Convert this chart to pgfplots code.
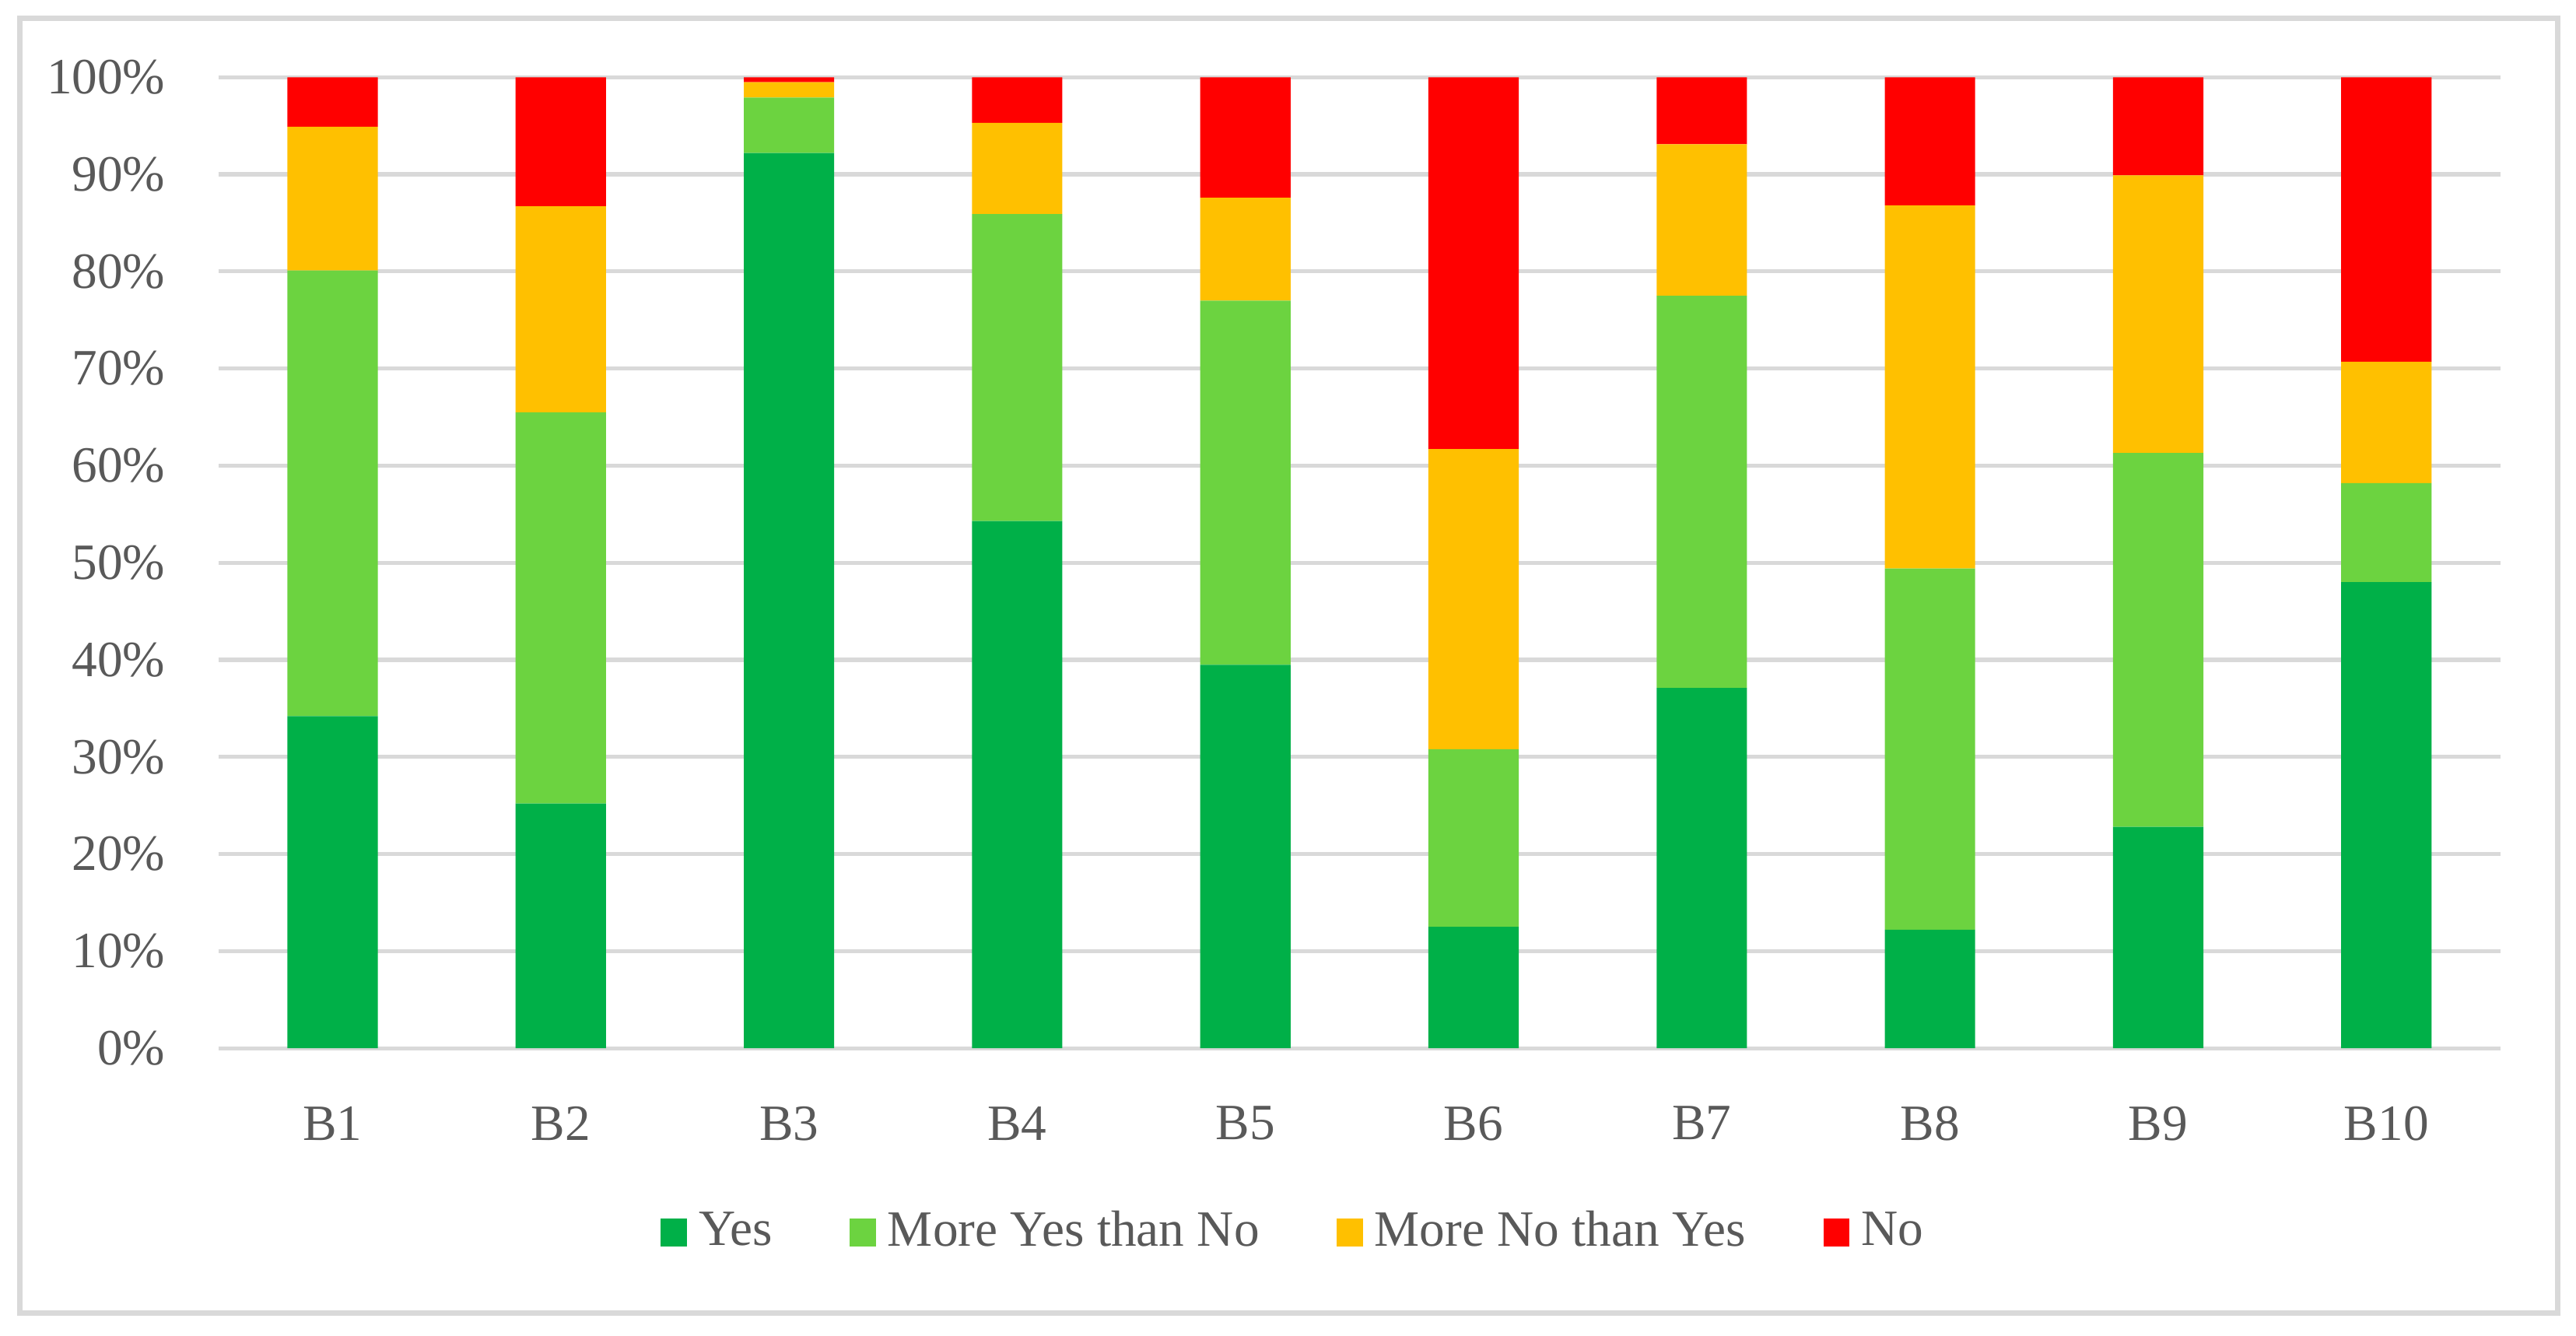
\documentclass[border=0pt]{standalone}
\usepackage{fontspec}
\setmainfont{Liberation Serif}
\usepackage{pgfplots}
\usepackage{pgfplotstable}
\pgfplotsset{compat=1.18}

\definecolor{cyes}{RGB}{0,176,72}
\definecolor{cmyes}{RGB}{108,211,64}
\definecolor{cmno}{RGB}{255,192,0}
\definecolor{cno}{RGB}{255,0,0}
\definecolor{gridgray}{RGB}{217,217,217}
\definecolor{textgray}{RGB}{89,89,89}

% shares in percent, bottom to top
\pgfplotstableread{
cat yes myes mno no
1  34.2 45.9 14.8 5.1
2  25.2 40.3 21.2 13.3
3  92.2 5.7  1.6  0.5
4  54.3 31.6 9.4  4.7
5  39.5 37.5 10.6 12.4
6  12.5 18.3 30.9 38.3
7  37.1 40.4 15.6 6.9
8  12.2 37.2 37.4 13.2
9  22.8 38.5 28.6 10.1
10 48.0 10.2 12.5 29.3
}\answers

\begin{document}
\begin{tikzpicture}
\useasboundingbox (-1.33,-1.75) rectangle (14.35,6.38);
\draw[gridgray, line width=0.9pt] (-1.21,-1.61) rectangle (14.24,6.27);
\begin{axis}[
    at={(0,0)}, anchor=south west,
    scale only axis, width=13.89cm, height=5.91cm,
    ybar stacked, bar width=5.5mm,
    xmin=0.5, xmax=10.5, ymin=0, ymax=100,
    xtick={1,2,3,4,5,6,7,8,9,10},
    xticklabels={B1,B2,B3,B4,B5,B6,B7,B8,B9,B10},
    ytick={0,10,20,30,40,50,60,70,80,90,100},
    yticklabels={0\%,10\%,20\%,30\%,40\%,50\%,60\%,70\%,80\%,90\%,100\%},
    ymajorgrids,
    grid style={gridgray, line width=0.7pt},
    axis line style={draw=none},
    major tick length=0pt,
    tick label style={font=\fontsize{8.8}{10}\selectfont, text=textgray},
    yticklabel shift=2mm,
    xticklabel shift=2.3mm,
    every axis plot/.append style={draw=none,
        legend image code/.code={\fill[##1] (0mm,-0.85mm) rectangle (1.6mm,0.85mm);}},
    legend columns=4,
    legend style={at={(0.473,-0.19)}, anchor=center, draw=none,
        font=\fontsize{8.8}{10}\selectfont, text=textgray,
        /tikz/every even column/.append style={column sep=4mm}},
]
\addplot[fill=cyes] table[x=cat, y=yes] {\answers};
\addplot[fill=cmyes] table[x=cat, y=myes] {\answers};
\addplot[fill=cmno] table[x=cat, y=mno] {\answers};
\addplot[fill=cno] table[x=cat, y=no] {\answers};
\legend{Yes, More Yes than No, More No than Yes, No}
\end{axis}
\end{tikzpicture}
\end{document}
